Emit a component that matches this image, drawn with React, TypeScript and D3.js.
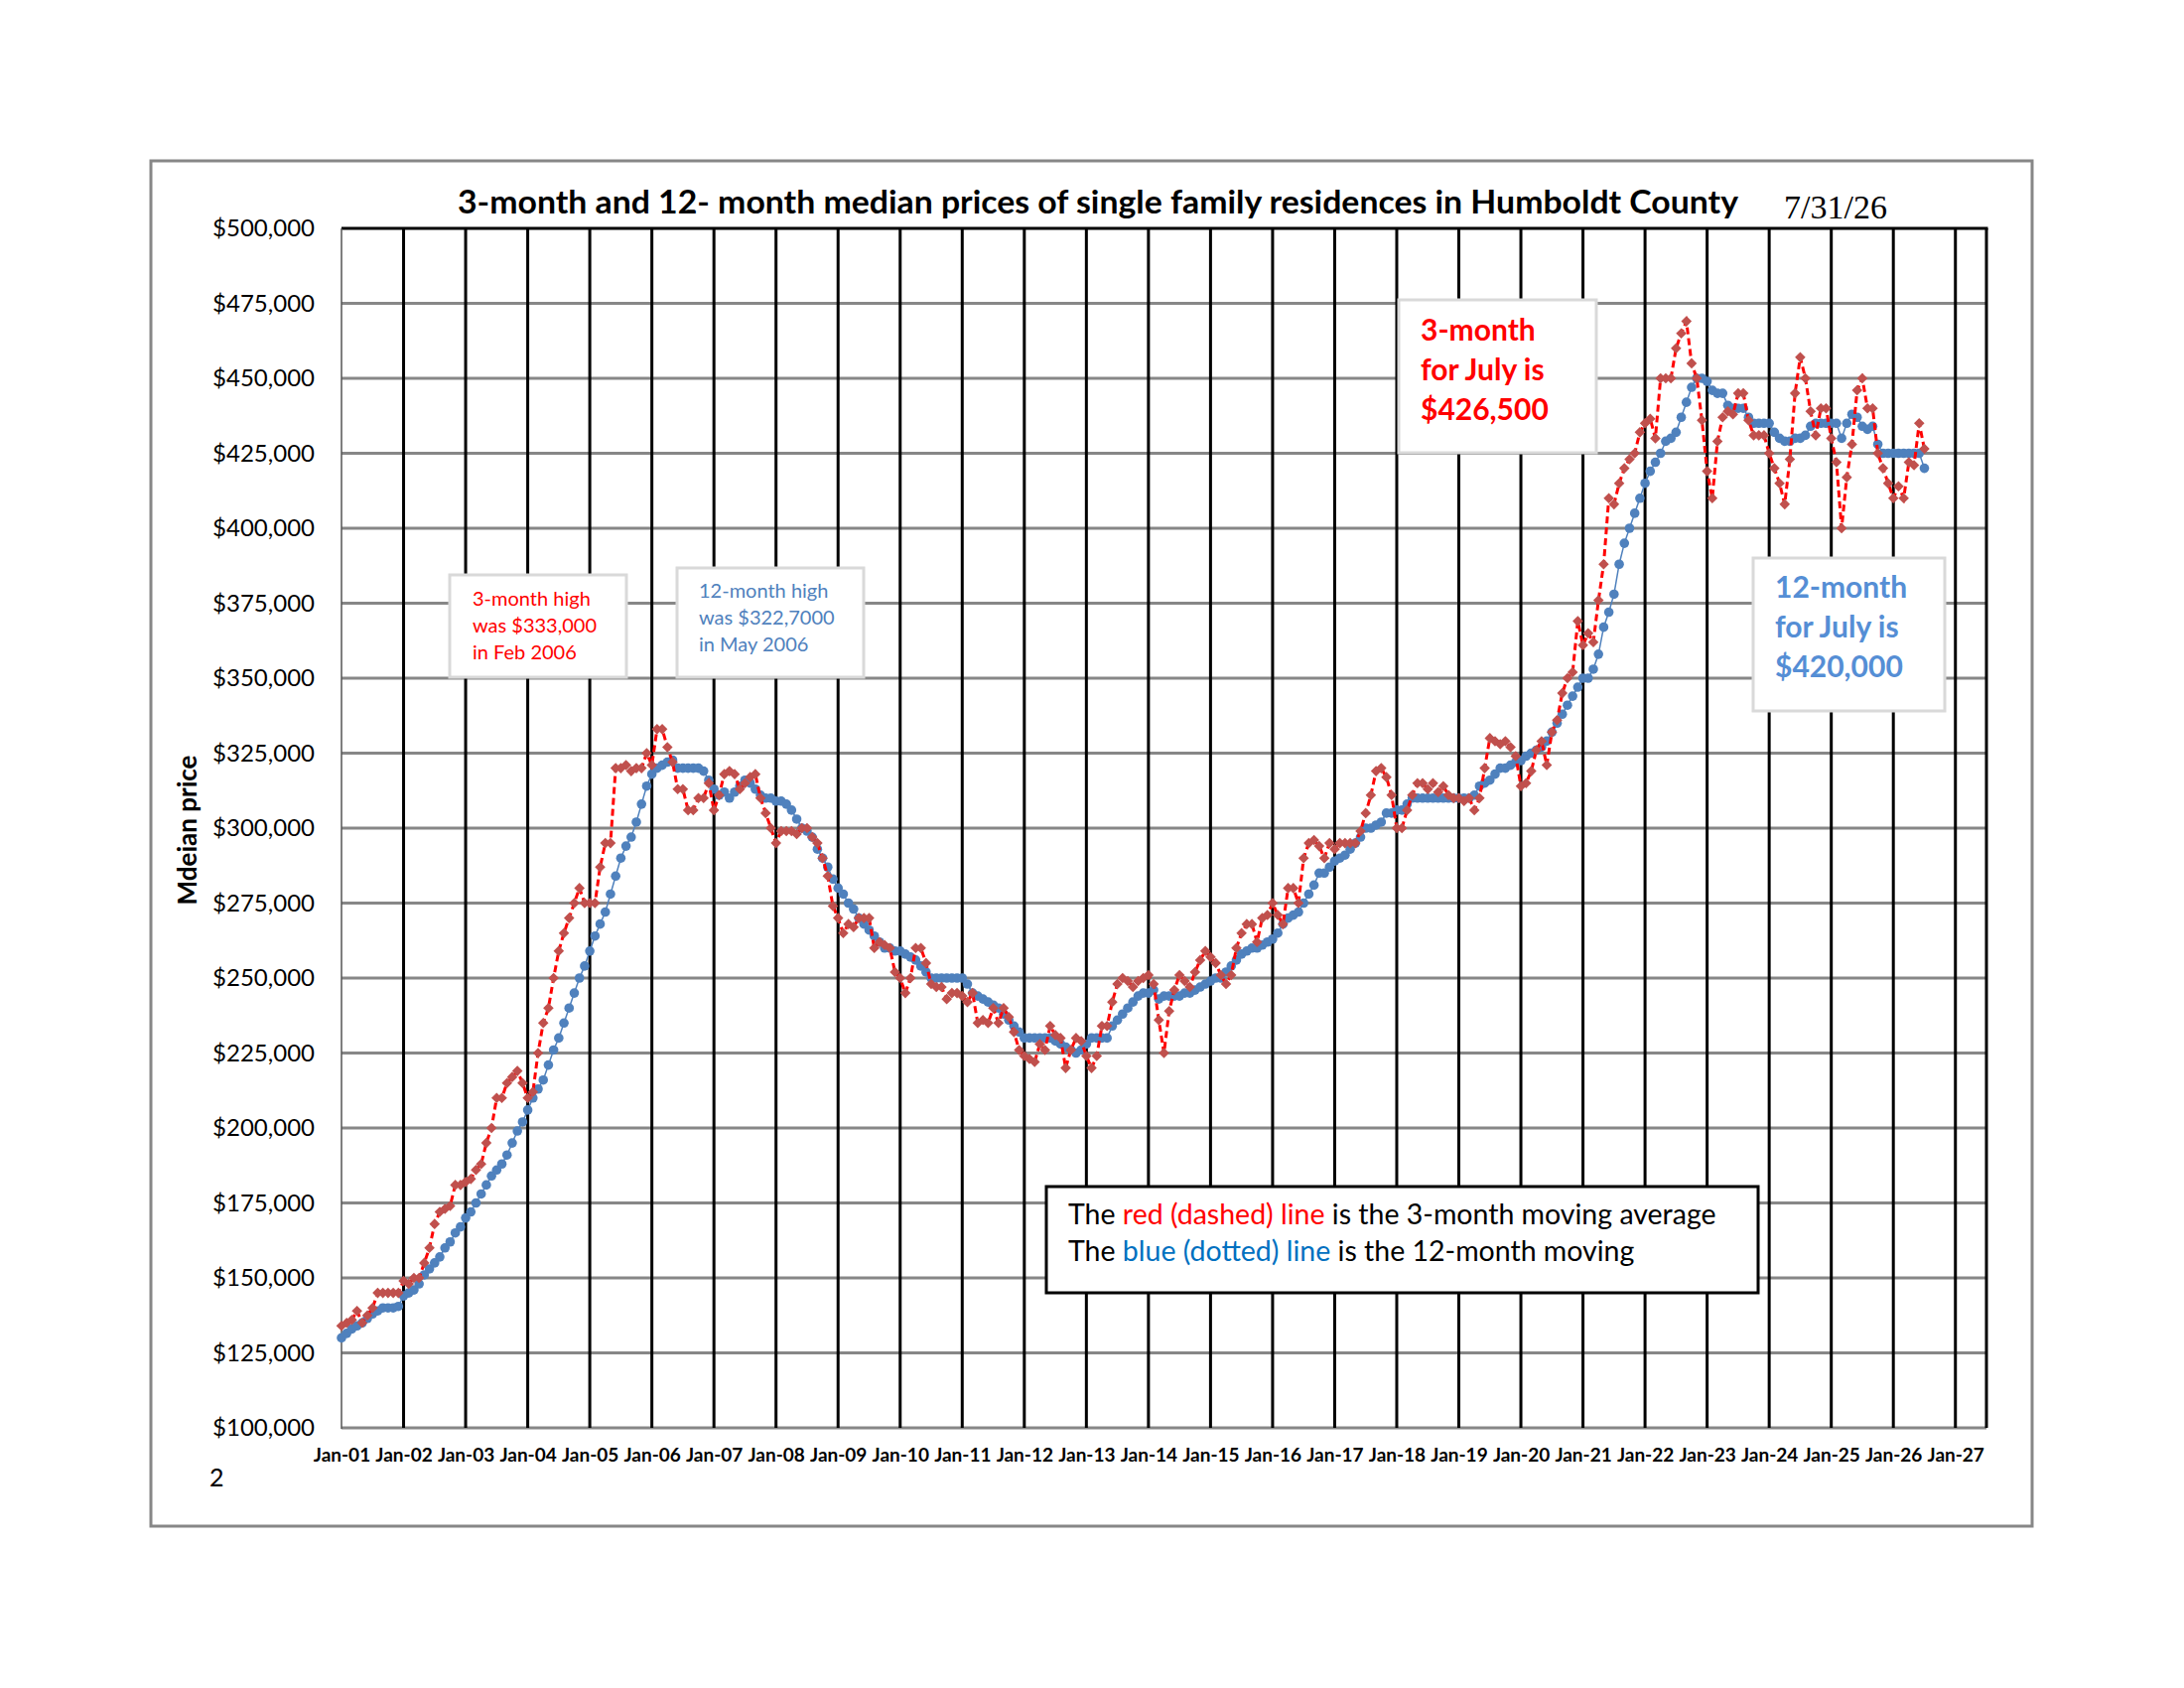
import { useRef, useEffect } from 'react'
import * as d3 from 'd3'

const xLabels = [
  'Jan-01', 'Jan-02', 'Jan-03', 'Jan-04', 'Jan-05', 'Jan-06', 'Jan-07', 'Jan-08', 'Jan-09',
  'Jan-10', 'Jan-11', 'Jan-12', 'Jan-13', 'Jan-14', 'Jan-15', 'Jan-16', 'Jan-17', 'Jan-18',
  'Jan-19', 'Jan-20', 'Jan-21', 'Jan-22', 'Jan-23', 'Jan-24', 'Jan-25', 'Jan-26', 'Jan-27',
]

const yTicks = [
  100000, 125000, 150000, 175000, 200000, 225000, 250000, 275000, 300000,
  325000, 350000, 375000, 400000, 425000, 450000, 475000, 500000,
]

// monthly values in $ thousands, Jan 2001 .. Jul 2026
const threeMonth = [
  134, 135, 136, 139, 135, 137.5, 140, 145, 145, 145, 145, 145,
  149, 148, 150, 150, 155, 160, 168, 172, 173, 174, 181, 181,
  182, 183, 186, 188, 195, 200, 210, 210, 215, 217, 219, 215,
  210, 212, 225, 235, 240, 250, 259, 265, 270, 275, 280, 275,
  275, 275, 287, 295, 295, 320, 320, 321, 319, 320, 320, 325,
  321, 333, 333, 327, 322, 313, 313, 306, 306, 310, 310, 315,
  306, 311, 318, 319, 318, 313, 315, 317, 318, 310, 305, 300,
  295, 299, 299, 299, 298, 300, 300, 297, 295, 290, 284, 274,
  270, 265, 268, 267, 270, 270, 270, 260, 262, 261, 260, 252,
  250, 245, 250, 260, 260, 255, 248, 247, 247, 243, 245, 245,
  244, 242, 245, 235, 236, 235, 240, 235, 240, 237, 232, 226,
  224, 223, 222, 228, 226, 234, 231, 230, 220, 226, 230, 229,
  224, 220, 224, 234, 234, 242, 248, 250, 249, 247, 249, 250,
  251, 248, 236, 225, 239, 246, 251, 249, 247, 252, 256, 259,
  257, 255, 251, 248, 251, 260, 265, 268, 268, 262, 270, 271,
  275, 271, 268, 280, 280, 275, 290, 295, 296, 294, 290, 295,
  293, 295, 295, 295, 295, 299, 305, 311, 319, 320, 317, 311,
  300, 300, 306, 311, 315, 315, 313, 315, 312, 314, 311, 310,
  310, 309, 310, 306, 310, 320, 330, 329, 328, 329, 327, 324,
  314, 315, 319, 326, 329, 321, 332, 336, 345, 350, 352, 369,
  361, 365, 362, 376, 388, 410, 408, 415, 420, 423, 425, 432,
  435, 436.5, 430, 450, 450, 450, 460, 465, 469, 455, 450, 436,
  419, 410, 429, 437, 439, 438, 445, 445, 436, 431, 431, 431,
  425, 420, 415, 408, 423, 445, 457, 450, 439, 431, 440, 440,
  430, 422, 400, 417, 428, 446, 450, 440, 440, 425, 420, 415,
  410, 414, 410, 422, 421, 435, 426.5,
]

const twelveMonth = [
  130, 131.5, 133, 134, 135, 136.5, 138, 139, 140, 140, 140, 140.5,
  144, 145, 146, 148, 151, 153, 155, 157, 160, 162, 165, 167,
  170, 172, 175, 178, 181, 184, 186, 188, 191, 195, 199, 202,
  206, 210, 213, 216, 221, 226, 230, 235, 240, 245, 250, 254,
  259, 264, 268, 272, 278, 284, 290, 294, 297, 302, 308, 314,
  318, 320, 321, 322, 322.7, 320, 320, 320, 320, 320, 319, 316,
  313, 311, 312, 310, 312, 314, 316, 315, 313, 311, 310, 310,
  309, 309, 308, 306, 303, 300, 299, 297, 293, 290, 287, 283,
  280, 278, 275, 273, 270, 268, 266, 264, 262, 260, 260, 259,
  259, 258, 257, 256, 254, 252, 250, 250, 250, 250, 250, 250,
  250, 248, 245, 244, 243, 242, 241, 240, 238, 236, 234, 232,
  230, 230, 230, 230, 230, 230, 229, 228, 227, 226, 225, 226,
  228, 230, 230, 230, 230, 234, 236, 238, 240, 242, 244, 245,
  245, 246, 243, 244, 244, 244, 244, 245, 245, 246, 247, 248,
  249, 250, 250, 252, 254, 256, 258, 259, 260, 260, 261, 262,
  263, 265, 268, 270, 271, 272, 275, 278, 281, 285, 285, 287,
  289, 290, 291, 293, 295, 297, 300, 300, 301, 302, 305, 305,
  306, 306, 308, 310, 310, 310, 310, 310, 310, 310, 310, 310,
  310, 310, 310, 311, 314, 315, 316, 318, 320, 320, 321, 322,
  322.5, 324, 325, 326, 327, 329, 332, 335, 338, 341, 344, 347,
  350, 350, 353, 358, 367, 372, 378, 388, 395, 400, 405, 410,
  415, 419, 422, 425, 429, 430, 432, 437, 442, 447, 450, 450,
  449, 446, 445, 445, 441, 440, 440, 440, 437, 435, 435, 435,
  435, 432, 430, 429, 429, 430, 430, 431, 434, 435, 435, 435,
  435, 435, 430, 435, 438, 437, 434, 433, 434, 428, 425, 425,
  425, 425, 425, 425, 425, 425, 420,
]

const FONT = "Lato, 'Liberation Sans', sans-serif"

const App = () => {
  const ref = useRef<SVGGElement>(null)

  useEffect(() => {
    if (!ref.current) return
    const g = d3.select(ref.current)
    g.selectAll('*').remove()

    const left = 344
    const right = 2001
    const top = 230
    const bottom = 1438

    const x = d3.scaleLinear().domain([0, 318]).range([left, right])
    const y = d3.scaleLinear().domain([100000, 500000]).range([bottom, top])
    const tickIdx = xLabels.map((_, i) => i * 12)

    // horizontal grid (gray)
    g.append('g')
      .selectAll('line')
      .data(yTicks.slice(0, -1))
      .join('line')
      .attr('x1', left)
      .attr('x2', right)
      .attr('y1', d => y(d))
      .attr('y2', d => y(d))
      .attr('stroke', '#878787')
      .attr('stroke-width', 3)

    // vertical grid (black)
    g.append('g')
      .selectAll('line')
      .data(tickIdx.slice(1))
      .join('line')
      .attr('x1', d => x(d))
      .attr('x2', d => x(d))
      .attr('y1', top)
      .attr('y2', bottom)
      .attr('stroke', '#000')
      .attr('stroke-width', 3)

    // plot border: top + right black, left thin
    g.append('line').attr('x1', left).attr('x2', right + 1.5).attr('y1', top).attr('y2', top)
      .attr('stroke', '#000').attr('stroke-width', 3)
    g.append('line').attr('x1', right).attr('x2', right).attr('y1', top).attr('y2', bottom)
      .attr('stroke', '#000').attr('stroke-width', 3)
    g.append('line').attr('x1', left).attr('x2', left).attr('y1', top).attr('y2', bottom + 1)
      .attr('stroke', '#555').attr('stroke-width', 1.5)

    // y axis labels
    const yAxis = g.append('g')
      .attr('transform', `translate(${left},0)`)
      .call(d3.axisLeft(y).tickValues(yTicks).tickFormat(d3.format('$,.0f')).tickSize(0).tickPadding(27))
    yAxis.select('.domain').remove()
    yAxis.attr('font-size', 24).attr('font-family', FONT)
    yAxis.selectAll('text').attr('fill', '#000')

    // x axis labels
    const xAxis = g.append('g')
      .attr('transform', `translate(0,${bottom})`)
      .call(d3.axisBottom(x).tickValues(tickIdx).tickFormat((_, i) => xLabels[i]).tickSize(0).tickPadding(21))
    xAxis.select('.domain').remove()
    xAxis.attr('font-size', 19).attr('font-family', FONT).attr('font-weight', 'bold')
    xAxis.selectAll('text').attr('fill', '#000')

    // 12-month series (blue)
    const line = d3.line<number>().x((_, i) => x(i)).y(d => y(d * 1000))
    g.append('path')
      .datum(twelveMonth)
      .attr('d', line)
      .attr('fill', 'none')
      .attr('stroke', '#4f81bd')
      .attr('stroke-width', 1.5)
    g.append('g')
      .selectAll('circle')
      .data(twelveMonth)
      .join('circle')
      .attr('cx', (_, i) => x(i))
      .attr('cy', d => y(d * 1000))
      .attr('r', 4.8)
      .attr('fill', '#4f81bd')

    // 3-month series (red)
    g.append('path')
      .datum(threeMonth)
      .attr('d', line)
      .attr('fill', 'none')
      .attr('stroke', '#ff0000')
      .attr('stroke-width', 3)
      .attr('stroke-dasharray', '7,4')
    const diamond = d3.symbol().type(d3.symbolSquare).size(56)
    g.append('g')
      .selectAll('path')
      .data(threeMonth)
      .join('path')
      .attr('d', diamond)
      .attr('transform', (d, i) => `translate(${x(i)},${y(d * 1000)}) rotate(45)`)
      .attr('fill', '#c0504d')
  }, [])

  return (
    <svg width={2200} height={1700} style={{ position: 'absolute', left: 0, top: 0, background: '#fff' }}>
      <rect x={0} y={0} width={2200} height={1700} fill="#fff" />
      <rect x={152} y={162} width={1895} height={1375} fill="none" stroke="#878787" strokeWidth={3} />
      <g ref={ref} />

      <text x={1106} y={215} textAnchor="middle" fontFamily={FONT} fontWeight="bold" fontSize={33}
        textLength={1290} lengthAdjust="spacingAndGlyphs">
        3-month and 12- month median prices of single family residences in Humboldt County
      </text>
      <text x={1797} y={220} fontFamily="'Liberation Serif', 'DejaVu Serif', serif" fontSize={34}>7/31/26</text>

      <text transform="translate(198,836) rotate(-90)" textAnchor="middle" fontFamily={FONT} fontWeight="bold" fontSize={26}>
        Mdeian price
      </text>
      <text x={211} y={1497} fontFamily={FONT} fontSize={25}>2</text>

      <rect x={453} y={579} width={178} height={103} fill="#fff" stroke="#d9d9d9" strokeWidth={3} />
      <text fontFamily={FONT} fontSize={20} fill="#ff0000">
        <tspan x={476} y={610}>3-month high</tspan>
        <tspan x={476} y={637}>was $333,000</tspan>
        <tspan x={476} y={664}>in Feb 2006</tspan>
      </text>

      <rect x={682} y={572} width={188} height={110} fill="#fff" stroke="#d9d9d9" strokeWidth={3} />
      <text fontFamily={FONT} fontSize={20} fill="#4f81bd">
        <tspan x={704} y={602}>12-month high</tspan>
        <tspan x={704} y={629}>was $322,7000</tspan>
        <tspan x={704} y={656}>in May 2006</tspan>
      </text>

      <rect x={1409} y={302} width={199} height={154} fill="#fff" stroke="#d9d9d9" strokeWidth={3} />
      <text fontFamily={FONT} fontSize={30} fontWeight="bold" fill="#ff0000">
        <tspan x={1431} y={343}>3-month</tspan>
        <tspan x={1431} y={383}>for July is</tspan>
        <tspan x={1431} y={423}>$426,500</tspan>
      </text>

      <rect x={1766} y={562} width={193} height={154} fill="#fff" stroke="#d9d9d9" strokeWidth={3} />
      <text fontFamily={FONT} fontSize={30} fontWeight="bold" fill="#558ed5">
        <tspan x={1788} y={602}>12-month</tspan>
        <tspan x={1788} y={642}>for July is</tspan>
        <tspan x={1788} y={682}>$420,000</tspan>
      </text>

      <rect x={1054} y={1195} width={717} height={107} fill="#fff" stroke="#000" strokeWidth={3} />
      <text fontFamily={FONT} fontSize={28.5} fill="#000">
        <tspan x={1076} y={1233}>The </tspan>
        <tspan fill="#ff0000">red (dashed) line</tspan>
        <tspan> is the 3-month moving average</tspan>
      </text>
      <text fontFamily={FONT} fontSize={28.5} fill="#000">
        <tspan x={1076} y={1270}>The </tspan>
        <tspan fill="#0070c0">blue (dotted) line</tspan>
        <tspan> is the 12-month moving</tspan>
      </text>
    </svg>
  )
}

export default App
